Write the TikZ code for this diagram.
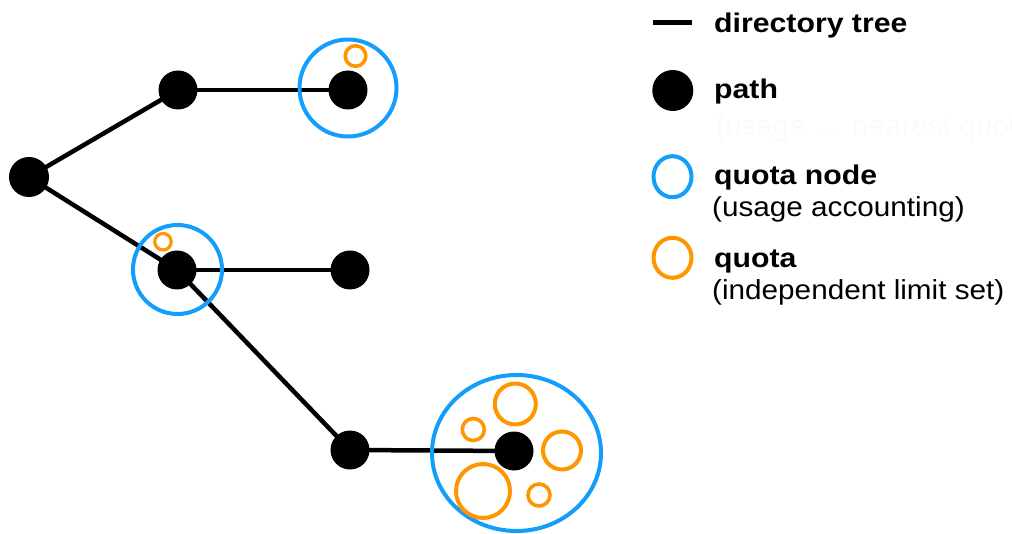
\documentclass[tikz,border=0pt]{standalone}
\usepackage{fontspec}
\setmainfont{Liberation Sans}
\newfontfamily\legbold[FakeStretch=1.12]{Liberation Sans}
\newfontfamily\legreg[FakeStretch=1.08]{Liberation Sans}
\usetikzlibrary{shapes.geometric}
\definecolor{qblue}{RGB}{18,158,250}
\definecolor{qorange}{RGB}{255,150,0}
\tikzset{
  treeline/.style={line width=4.5pt, black},
  pathdot/.style={circle, fill=black, draw=none, inner sep=0pt, minimum size=38pt},
  qring/.style={circle, draw=qblue, line width=4pt, inner sep=0pt},
  qorange/.style={circle, draw=qorange, line width=3.6pt, inner sep=0pt},
  legtitle/.style={anchor=base west, inner sep=0pt, font=\legbold\bfseries\fontsize{27pt}{30pt}\selectfont},
  legsub/.style={anchor=base west, inner sep=0pt, font=\legreg\fontsize{27.5pt}{30pt}\selectfont},
}
\begin{document}
\begin{tikzpicture}[x=1pt, y=-1pt]
\useasboundingbox (0,0) rectangle (1012,534);
% tree nodes
\node[pathdot, minimum height=40pt] (root) at (29,177) {};
\node[pathdot] (a) at (178,90) {};
\node[pathdot] (b) at (348,90) {};
\node[pathdot] (c) at (177,270) {};
\node[pathdot] (d) at (350,270) {};
\node[pathdot] (e) at (350,450) {};
\node[pathdot] (f) at (514,451) {};
% connectors
\draw[treeline] (root.center) -- (a.center);
\draw[treeline] (a.center) -- (b.center);
\draw[treeline] (root.center) -- (c.center);
\draw[treeline] (c.center) -- (d.center);
\draw[treeline] (c.center) -- (e.center);
\draw[treeline] (e.center) -- (f.center);
% redraw dots on top
\foreach \n in {root,a,b,c,d,e,f} {\fill[black] (\n.center) circle [radius=19.5pt];}
% quota node rings
\node[qring, minimum size=97pt] (qb) at (348,88) {};
\node[qring, minimum size=89pt] (qc) at (177.5,269.5) {};
\node[ellipse, draw=qblue, line width=4pt, inner sep=0pt, minimum width=169pt, minimum height=156pt] (qf) at (516.5,453) {};
% quotas
\node[qorange, minimum size=20.5pt] (ob) at (355.5,56) {};
\node[qorange, minimum size=16.5pt, line width=3.2pt] (oc) at (163,241.7) {};
\node[qorange, minimum size=41pt, line width=4pt] (of1) at (515.3,404) {};
\node[qorange, minimum size=22pt] (of2) at (473.3,429.5) {};
\node[qorange, minimum size=38pt, line width=4pt] (of3) at (562,450.5) {};
\node[qorange, minimum size=54pt, line width=4pt] (of4) at (483,491) {};
\node[qorange, minimum size=22pt] (of5) at (539,495) {};
% legend
\coordinate (l1) at (653,22.7);
\coordinate (l2) at (692,22.7);
\draw[line width=4.8pt] (l1) -- (l2);
\node[legtitle] (t1) at (714,33) {directory tree};
\node[pathdot, minimum width=39pt, minimum height=41pt] (ldot) at (672.8,90.5) {};
\node[legtitle] (t2) at (714,99) {path};
\node[legsub, text=black!2] (ghost) at (715,136) {(usage → nearest quota)};
\node[ellipse, draw=qblue, line width=4pt, inner sep=0pt, minimum width=38pt, minimum height=41pt] (lblue) at (672.5,176.7) {};
\node[legtitle] (t3) at (714,185) {quota node};
\node[legsub] (t4) at (712,217) {(usage accounting)};
\node[ellipse, draw=qorange, line width=4pt, inner sep=0pt, minimum width=38pt, minimum height=40pt] (lorange) at (672.5,257.8) {};
\node[legtitle] (t5) at (714,268) {quota};
\node[legsub] (t6) at (712,300) {(independent limit set)};
\end{tikzpicture}
\end{document}
